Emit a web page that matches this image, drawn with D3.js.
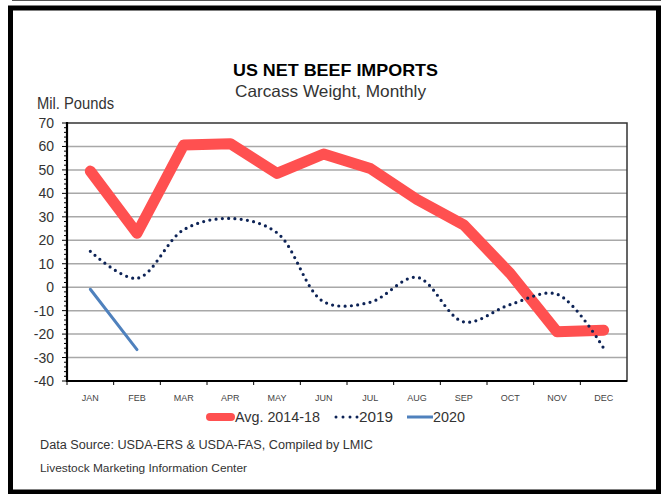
<!DOCTYPE html>
<html>
<head>
<meta charset="utf-8">
<script src="https://cdn.jsdelivr.net/npm/d3@7"></script>
<style>
  body { margin: 0; background: #fff; }
  svg text { font-family: "Liberation Sans", Arial, sans-serif; }
</style>
</head>
<body>
<div id="chart"></div>
<script>
// data
const months = ['JAN', 'FEB', 'MAR', 'APR', 'MAY', 'JUN', 'JUL', 'AUG', 'SEP', 'OCT', 'NOV', 'DEC'];
const avg1418 = [49.5, 23, 60.6, 61.2, 48.5, 56.8, 50.6, 37.4, 26.6, 5.8, -19, -18.4];
const y2019 = [15.3, 3.8, 24.5, 29.3, 23.2, -6.2, -6.4, 4.2, -14.8, -7.4, -3, -26];
const y2020 = [-0.9, -26.6];
const yTicks = [70, 60, 50, 40, 30, 20, 10, 0, -10, -20, -30, -40];

const width = 661, height = 494;
const plot = {left: 67, right: 627, top: 123, bottom: 381};

const svg = d3.select('#chart').append('svg')
  .attr('width', width)
  .attr('height', height);

// outer frame
svg.append('line')
  .attr('x1', 12).attr('x2', width).attr('y1', 0.5).attr('y2', 0.5)
  .attr('stroke', '#555').attr('stroke-width', 1);
svg.append('rect')
  .attr('x', 10.5).attr('y', 8)
  .attr('width', 648).attr('height', 484)
  .attr('fill', 'none').attr('stroke', '#000').attr('stroke-width', 5);

const x = d3.scaleBand().domain(months).range([plot.left, plot.right]);
const y = d3.scaleLinear().domain([-40, 70]).range([plot.bottom, plot.top]);

// gridlines
svg.append('g').selectAll('line')
  .data(yTicks.filter(d => d !== -40 && d !== 70))
  .join('line')
  .attr('x1', plot.left).attr('x2', plot.right)
  .attr('y1', d => y(d)).attr('y2', d => y(d))
  .attr('stroke', '#a8a8a8').attr('stroke-width', 1.5);

// plot border
svg.append('rect')
  .attr('x', plot.left).attr('y', plot.top)
  .attr('width', plot.right - plot.left).attr('height', plot.bottom - plot.top)
  .attr('fill', 'none').attr('stroke', '#333').attr('stroke-width', 1.5);

// y axis with minor ticks
const minor = d3.range(-40, 70.01, 2);
svg.append('g').selectAll('line')
  .data(minor)
  .join('line')
  .attr('x1', d => d % 10 === 0 ? plot.left - 5 : plot.left - 3)
  .attr('x2', plot.left)
  .attr('y1', d => y(d)).attr('y2', d => y(d))
  .attr('stroke', '#000').attr('stroke-width', 1);

svg.append('line')
  .attr('x1', plot.left).attr('x2', plot.left)
  .attr('y1', plot.top - 1).attr('y2', plot.bottom + 1)
  .attr('stroke', '#000').attr('stroke-width', 2.2);

svg.append('g').selectAll('text')
  .data(yTicks)
  .join('text')
  .attr('x', 54).attr('y', d => y(d))
  .attr('dy', '0.36em')
  .attr('text-anchor', 'end')
  .attr('font-size', 14)
  .attr('fill', '#333')
  .text(d => d);

// x axis
svg.append('line')
  .attr('x1', plot.left).attr('x2', plot.right)
  .attr('y1', plot.bottom).attr('y2', plot.bottom)
  .attr('stroke', '#000').attr('stroke-width', 2);

svg.append('g').selectAll('line')
  .data(months)
  .join('line')
  .attr('x1', d => x(d)).attr('x2', d => x(d))
  .attr('y1', plot.bottom).attr('y2', plot.bottom + 4)
  .attr('stroke', '#000').attr('stroke-width', 1);

svg.append('g').selectAll('text')
  .data(months)
  .join('text')
  .attr('x', d => x(d) + x.bandwidth() / 2)
  .attr('y', 401)
  .attr('text-anchor', 'middle')
  .attr('font-size', 9)
  .attr('fill', '#444')
  .text(d => d);

// series
const cx = (d, i) => x(months[i]) + x.bandwidth() / 2;

svg.append('path')
  .datum(avg1418)
  .attr('d', d3.line().x(cx).y(d => y(d)))
  .attr('fill', 'none')
  .attr('stroke', '#ff5050')
  .attr('stroke-width', 11)
  .attr('stroke-linejoin', 'round')
  .attr('stroke-linecap', 'round');

svg.append('path')
  .datum(y2019)
  .attr('d', d3.line().x(cx).y(d => y(d)).curve(d3.curveCatmullRom.alpha(0.5)))
  .attr('fill', 'none')
  .attr('stroke', '#0d2356')
  .attr('stroke-width', 3.2)
  .attr('stroke-dasharray', '0 6.3')
  .attr('stroke-linecap', 'round');

svg.append('path')
  .datum(y2020)
  .attr('d', d3.line().x(cx).y(d => y(d)))
  .attr('fill', 'none')
  .attr('stroke', '#4f81bd')
  .attr('stroke-width', 3)
  .attr('stroke-linecap', 'round');

// titles
svg.append('text')
  .attr('x', 233).attr('y', 76)
  .attr('font-size', 16.5).attr('font-weight', 'bold')
  .attr('textLength', 205).attr('lengthAdjust', 'spacingAndGlyphs')
  .attr('fill', '#000')
  .text('US NET BEEF IMPORTS');
svg.append('text')
  .attr('x', 235).attr('y', 97)
  .attr('font-size', 16.5)
  .attr('textLength', 191).attr('lengthAdjust', 'spacingAndGlyphs')
  .attr('fill', '#333')
  .text('Carcass Weight, Monthly');
svg.append('text')
  .attr('x', 37).attr('y', 109)
  .attr('font-size', 16)
  .attr('textLength', 77).attr('lengthAdjust', 'spacingAndGlyphs')
  .attr('fill', '#333')
  .text('Mil. Pounds');

// legend
const legend = svg.append('g');
legend.append('line')
  .attr('x1', 210).attr('x2', 231).attr('y1', 417).attr('y2', 417)
  .attr('stroke', '#ff5050').attr('stroke-width', 8).attr('stroke-linecap', 'round');
legend.append('text').attr('x', 235).attr('y', 422)
  .attr('font-size', 15.5).attr('fill', '#333')
  .attr('textLength', 85).attr('lengthAdjust', 'spacingAndGlyphs')
  .text('Avg. 2014-18');
legend.append('line')
  .attr('x1', 336).attr('x2', 358).attr('y1', 417).attr('y2', 417)
  .attr('stroke', '#0d2356').attr('stroke-width', 3)
  .attr('stroke-dasharray', '0 7').attr('stroke-linecap', 'round');
legend.append('text').attr('x', 359).attr('y', 422)
  .attr('font-size', 15.5).attr('fill', '#333')
  .attr('textLength', 34).attr('lengthAdjust', 'spacingAndGlyphs')
  .text('2019');
legend.append('line')
  .attr('x1', 407).attr('x2', 433).attr('y1', 417).attr('y2', 417)
  .attr('stroke', '#4f81bd').attr('stroke-width', 3);
legend.append('text').attr('x', 433).attr('y', 422)
  .attr('font-size', 15.5).attr('fill', '#333')
  .attr('textLength', 32).attr('lengthAdjust', 'spacingAndGlyphs')
  .text('2020');

// footer
svg.append('text')
  .attr('x', 40).attr('y', 449)
  .attr('font-size', 12.5).attr('fill', '#333')
  .attr('textLength', 333).attr('lengthAdjust', 'spacingAndGlyphs')
  .text('Data Source:  USDA-ERS & USDA-FAS, Compiled by LMIC');
svg.append('text')
  .attr('x', 40).attr('y', 471.5)
  .attr('font-size', 11.5).attr('fill', '#333')
  .attr('textLength', 207).attr('lengthAdjust', 'spacingAndGlyphs')
  .text('Livestock Marketing Information Center');
</script>
</body>
</html>
